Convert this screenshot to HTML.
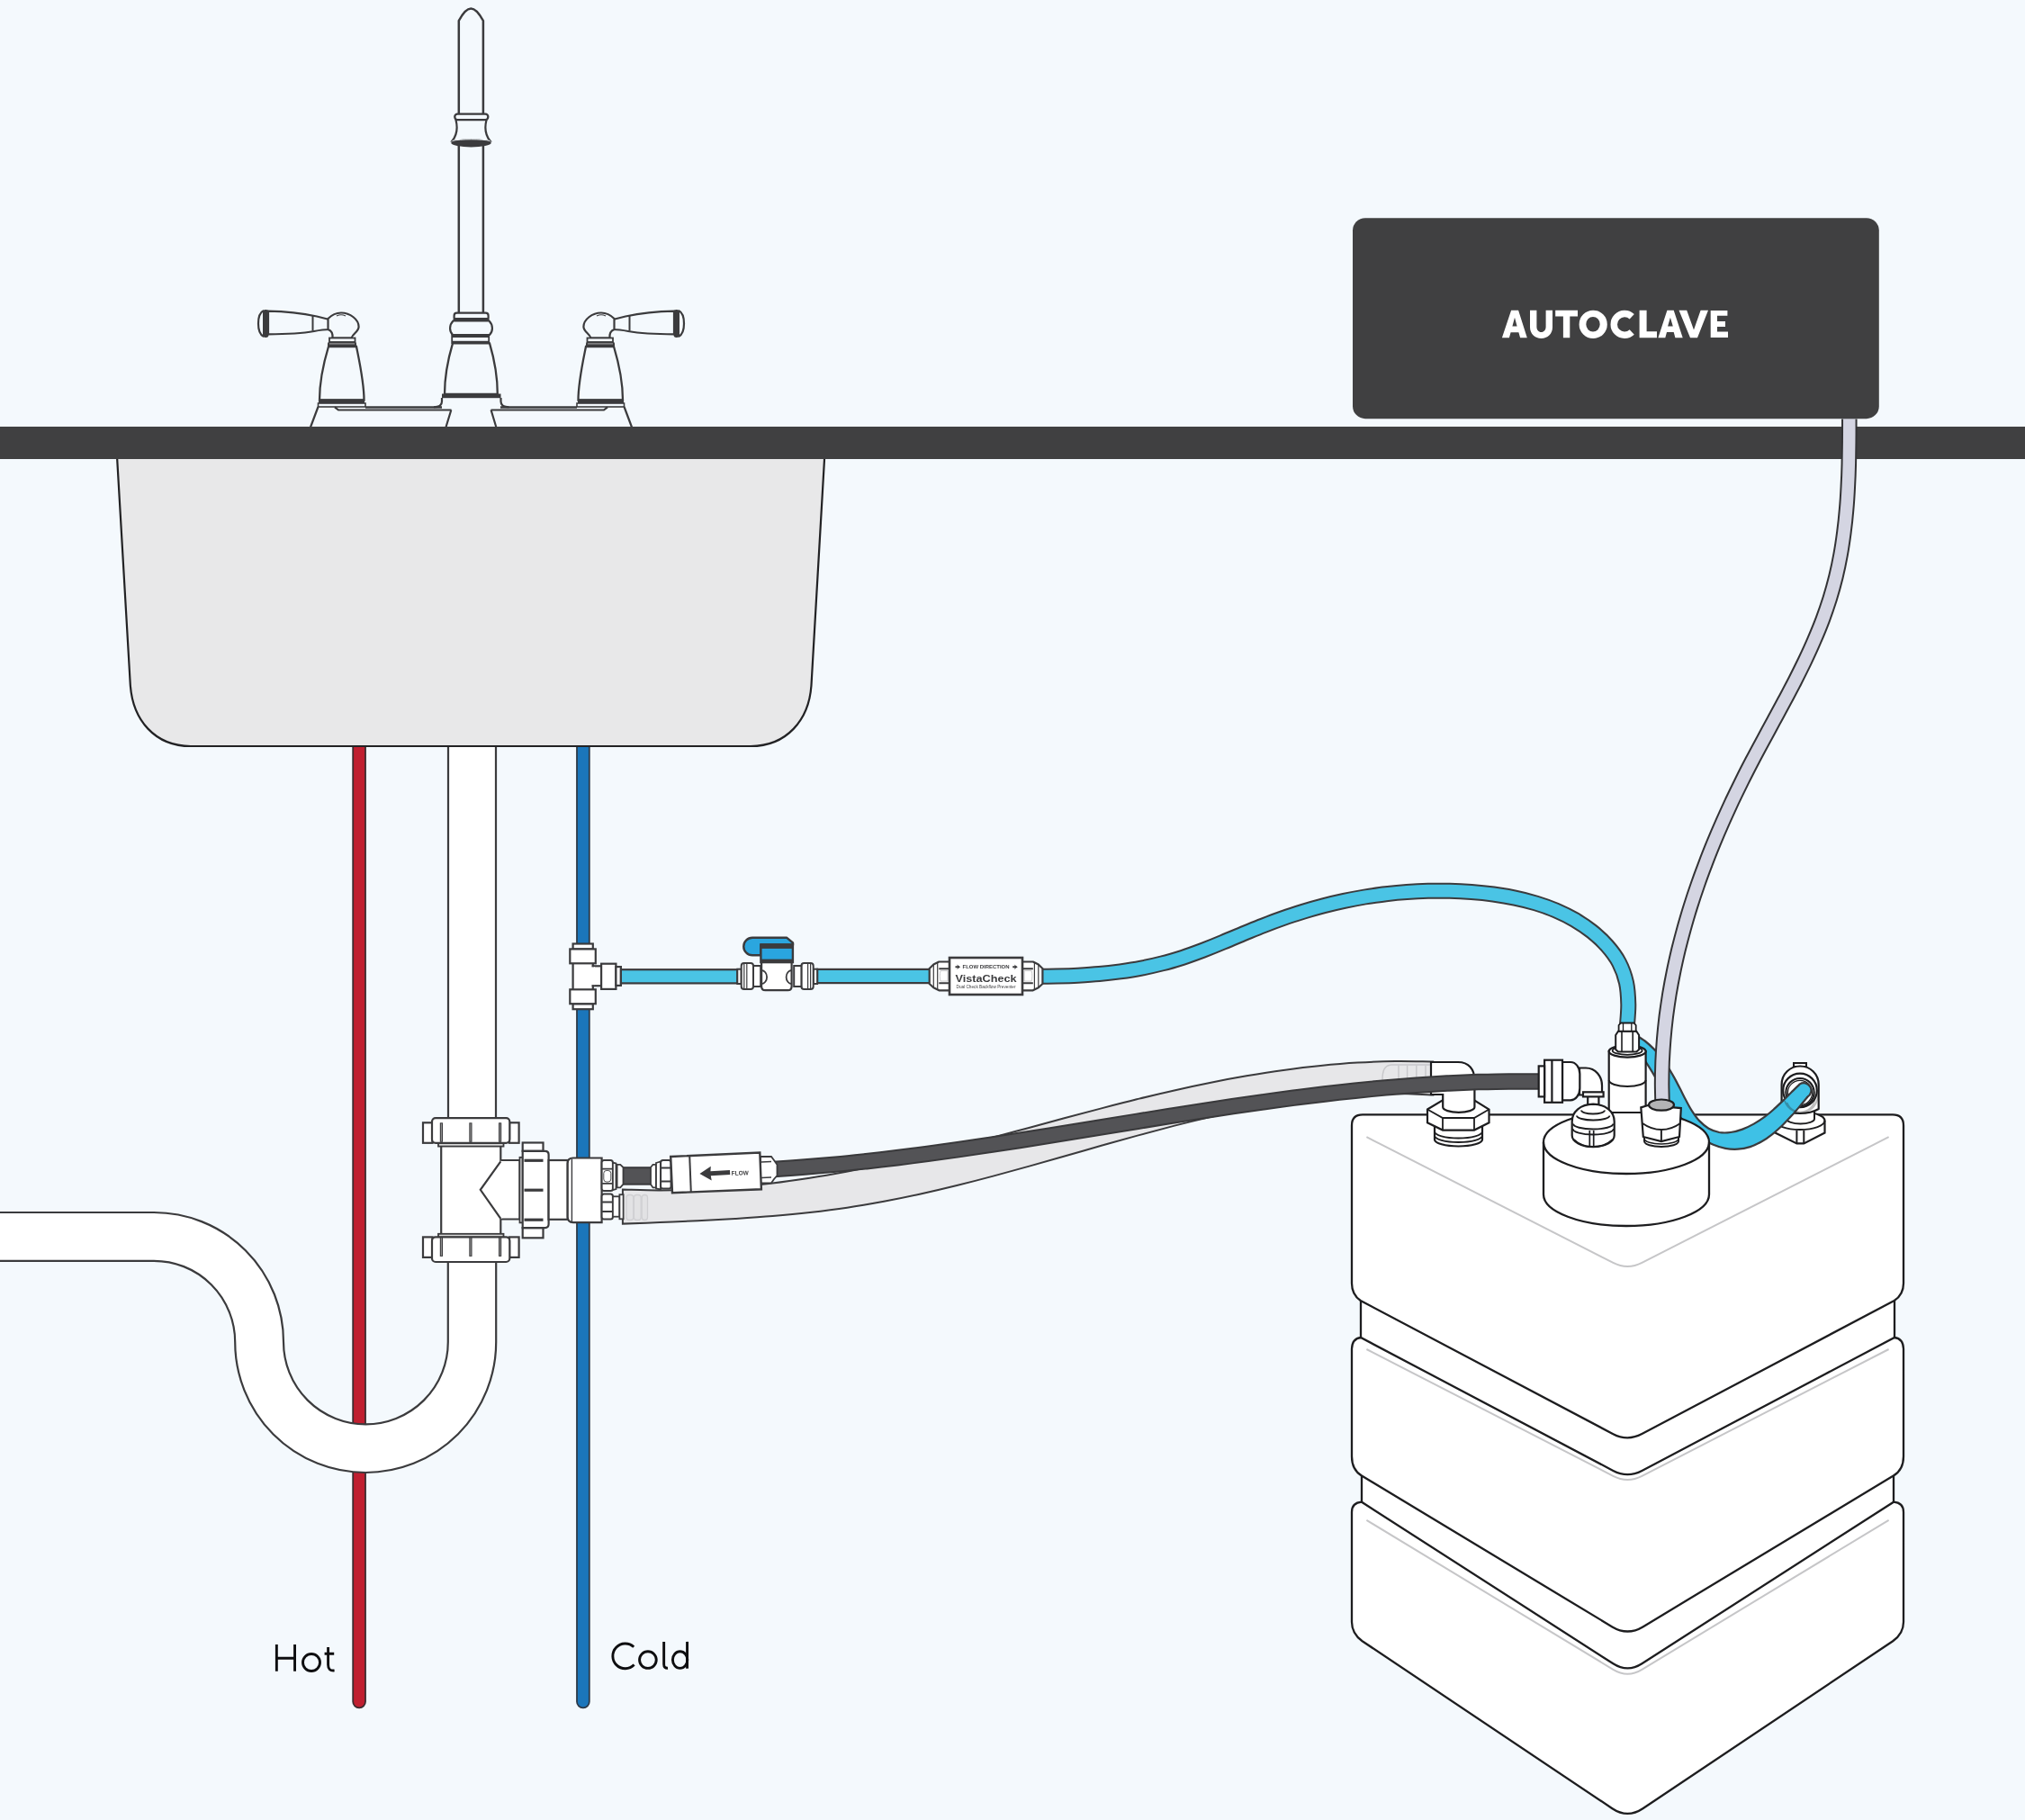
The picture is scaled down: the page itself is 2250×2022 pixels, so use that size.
<!DOCTYPE html>
<html><head><meta charset="utf-8"><title>Autoclave water line diagram</title>
<style>html,body{margin:0;padding:0;background:#f4f9fd;overflow:hidden}svg{display:block;will-change:transform}</style>
</head><body>
<svg width="2250" height="2022" viewBox="0 0 2250 2022">
<rect width="2250" height="2022" fill="#f4f9fd"/>
<g id="faucet">
<path d="M509.8,128 L509.8,23 C514,15 518,9.4 523.3,9.4 C528.6,9.4 532.6,15 536.9,23 L536.9,128 Z" fill="#f4f9fd" stroke="#3b3b3d" stroke-width="2.5"/>
<line x1="509.8" y1="160" x2="509.8" y2="349" stroke="#3b3b3d" stroke-width="2.5"/>
<line x1="536.9" y1="160" x2="536.9" y2="349" stroke="#3b3b3d" stroke-width="2.5"/>
<rect x="505.3" y="126.6" width="37" height="6.5" rx="3" fill="#f4f9fd" stroke="#3b3b3d" stroke-width="2.3"/>
<path d="M506.5,133.2 C508.5,141 508.5,149 502.5,156.5 L544.5,156.5 C538.5,149 538.5,141 540.5,133.2 Z" fill="#f4f9fd" stroke="#3b3b3d" stroke-width="2.2"/>
<ellipse cx="523.5" cy="158.8" rx="22.2" ry="4.6" fill="#3b3b3d"/>
<path d="M502.5,156.5 C510,154.2 537,154.2 544.5,156.5" fill="none" stroke="#f4f9fd" stroke-width="1"/>
<rect x="504.6" y="347.7" width="38" height="8.7" rx="3" fill="#f4f9fd" stroke="#3b3b3d" stroke-width="2.2"/>
<rect x="505" y="353" width="37" height="3.2" fill="#3b3b3d"/>
<path d="M503.5,356.4 C499,361 499,368 503,372 L544,372 C548,368 548,361 543.5,356.4 Z" fill="#f4f9fd" stroke="#3b3b3d" stroke-width="2.2"/>
<rect x="502.2" y="372" width="41" height="9" fill="#f4f9fd" stroke="#3b3b3d" stroke-width="1.8"/>
<rect x="502.2" y="372" width="41" height="3" fill="#3b3b3d"/>
<rect x="502.2" y="378.8" width="41" height="2.6" fill="#3b3b3d"/>
<path d="M503,381.4 C497.5,400 494,420 494,438 L552.8,438 C552.8,420 549.5,400 544,381.4 Z" fill="#f4f9fd" stroke="#3b3b3d" stroke-width="2.3"/>
<rect x="491" y="437.5" width="65.5" height="4.7" fill="#3b3b3d"/>
<path d="M491,442 L491,446 C491,450 488,452.3 482,452.3 M556.5,442 L556.5,446 C556.5,450 559.5,452.3 565.5,452.3" fill="none" stroke="#3b3b3d" stroke-width="2.2"/>
<path d="M501.3,455.5 L495.5,474.5 M545.6,455.5 L551.3,474.5" fill="none" stroke="#3b3b3d" stroke-width="2.2"/>
<path d="M293,345 C285,349 285,370 293,374" fill="none" stroke="#3b3b3d" stroke-width="2.2"/>
<rect x="292" y="344" width="6.5" height="31" rx="3" fill="#3b3b3d"/>
<path d="M298,345.7 C318,346 338,348.5 352,351.5 L366,355 L366,366 C360,366 354,367 349,368 C338,370 318,371.3 298,371.3 Z" fill="#f4f9fd" stroke="#3b3b3d" stroke-width="2.2"/>
<line x1="347.5" y1="350.5" x2="347.5" y2="367.5" stroke="#3b3b3d" stroke-width="2"/>
<path d="M364.5,354 C369,349.5 373,347.5 379,347.5 C389,347.5 398.6,355 398.6,363 C398.6,368.5 392,370.5 390.5,375.5 L369.5,375.5 C370,371 368.5,367.5 364.5,366 Z" fill="#f4f9fd" stroke="#3b3b3d" stroke-width="2.2"/>
<path d="M374,351 C377,349.5 381,349.5 384,351" fill="none" stroke="#3b3b3d" stroke-width="1.2"/>
<rect x="366" y="375.5" width="28.5" height="4.5" fill="#f4f9fd" stroke="#3b3b3d" stroke-width="1.8"/>
<rect x="364" y="380" width="32" height="5" rx="1.5" fill="#3b3b3d"/>
<rect x="366" y="381.3" width="28" height="1.2" fill="#9a9a9c"/>
<path d="M365,385 C359,405 355,425 355,444.5 L404.5,444.5 C404.5,425 400,405 396,385 Z" fill="#f4f9fd" stroke="#3b3b3d" stroke-width="2.3"/>
<rect x="354" y="443.5" width="51" height="4.5" fill="#3b3b3d"/>
<rect x="353.5" y="448" width="52.5" height="4" fill="#f4f9fd" stroke="#3b3b3d" stroke-width="1.6"/>
<path d="M353.5,452 L345,474.5" fill="none" stroke="#3b3b3d" stroke-width="2.2"/>
<path d="M372,452.3 L376,455.5 L501.5,455.5" fill="none" stroke="#3b3b3d" stroke-width="2.2"/>
<path d="M406,452.5 L491,452.5" fill="none" stroke="#3b3b3d" stroke-width="2.6"/>
<g transform="translate(1047,0) scale(-1,1)"><path d="M293,345 C285,349 285,370 293,374" fill="none" stroke="#3b3b3d" stroke-width="2.2"/>
<rect x="292" y="344" width="6.5" height="31" rx="3" fill="#3b3b3d"/>
<path d="M298,345.7 C318,346 338,348.5 352,351.5 L366,355 L366,366 C360,366 354,367 349,368 C338,370 318,371.3 298,371.3 Z" fill="#f4f9fd" stroke="#3b3b3d" stroke-width="2.2"/>
<line x1="347.5" y1="350.5" x2="347.5" y2="367.5" stroke="#3b3b3d" stroke-width="2"/>
<path d="M364.5,354 C369,349.5 373,347.5 379,347.5 C389,347.5 398.6,355 398.6,363 C398.6,368.5 392,370.5 390.5,375.5 L369.5,375.5 C370,371 368.5,367.5 364.5,366 Z" fill="#f4f9fd" stroke="#3b3b3d" stroke-width="2.2"/>
<path d="M374,351 C377,349.5 381,349.5 384,351" fill="none" stroke="#3b3b3d" stroke-width="1.2"/>
<rect x="366" y="375.5" width="28.5" height="4.5" fill="#f4f9fd" stroke="#3b3b3d" stroke-width="1.8"/>
<rect x="364" y="380" width="32" height="5" rx="1.5" fill="#3b3b3d"/>
<rect x="366" y="381.3" width="28" height="1.2" fill="#9a9a9c"/>
<path d="M365,385 C359,405 355,425 355,444.5 L404.5,444.5 C404.5,425 400,405 396,385 Z" fill="#f4f9fd" stroke="#3b3b3d" stroke-width="2.3"/>
<rect x="354" y="443.5" width="51" height="4.5" fill="#3b3b3d"/>
<rect x="353.5" y="448" width="52.5" height="4" fill="#f4f9fd" stroke="#3b3b3d" stroke-width="1.6"/>
<path d="M353.5,452 L345,474.5" fill="none" stroke="#3b3b3d" stroke-width="2.2"/>
<path d="M372,452.3 L376,455.5 L501.5,455.5" fill="none" stroke="#3b3b3d" stroke-width="2.2"/>
<path d="M406,452.5 L491,452.5" fill="none" stroke="#3b3b3d" stroke-width="2.6"/></g>
</g>
<path d="M392.2,815 V1890.5 A6.9,6.9 0 0 0 406,1890.5 V815" fill="#c01f30" stroke="#3d2b2e" stroke-width="1.8"/>
<rect x="498" y="815" width="53" height="430" fill="#ffffff"/>
<path d="M498,815 V1245 M551,815 V1245" stroke="#3b3b3d" stroke-width="2.2" fill="none"/>
<path d="M-5,1347 L171,1347 A144,144 0 0 1 315,1491 A91.4,91.4 0 0 0 497.8,1491 L497.8,1400 L551.2,1400 L551.2,1491 A145,145 0 0 1 261.2,1491 A90.2,90.2 0 0 0 171,1400.8 L-5,1400.8 Z" fill="#ffffff" stroke="#3b3b3d" stroke-width="2.2"/>
<path d="M641,815 V1890.5 A6.9,6.9 0 0 0 654.8,1890.5 V815" fill="#1b76bb" stroke="#2d3a48" stroke-width="1.8"/>
<path d="M129.6,500 L144.8,761 C147.5,800 172,829 212,829 L834,829 C874,829 899,800 901.5,761 L916.6,500 Z" fill="#e8e8e9" stroke="#222224" stroke-width="2.2"/>
<rect x="0" y="474" width="2250" height="36" fill="#404041"/>
<rect x="1503" y="242.2" width="584.8" height="223" rx="14" fill="#404041"/>
<path d="M1668.9,375.3 L1679.1,344.8 H1687.1 L1696.8,375.3 H1689.1 L1687.4,369.2 H1678.6 L1676.9,375.3 Z M1680.4,362.5 L1683,352.8 L1685.6,362.5 Z M1700,344.8 V363.5 C1700,371 1705.5,376 1712.5,376 C1719.5,376 1725,371 1725,363.5 V344.8 H1717.6 V363 C1717.6,366.5 1715.5,369 1712.5,369 C1709.5,369 1707.4,366.5 1707.4,363 V344.8 Z M1728.2,344.8 H1753 V351.6 H1744.3 V375.3 H1736.9 V351.6 H1728.2 Z M1754.6,360.4 A15.6,15.6 0 1 0 1785.8,360.4 A15.6,15.6 0 1 0 1754.6,360.4 Z M1762.3,360.25 A7.7,8.35 0 1 0 1777.7,360.25 A7.7,8.35 0 1 0 1762.3,360.25 Z M1815.8,349.05 A15.6,15.6 0 1 0 1815.8,371.75 L1810.66,366.3 A8.1,8.1 0 1 1 1810.66,354.5 Z M1821.6,344.8 H1829.6 V368.3 H1841 V375.3 H1821.6 Z M1842.4,375.3 L1852.4,344.8 H1859.7 L1869.7,375.3 H1861.4 L1859.7,369 H1852 L1850.3,375.3 Z M1853.1,362.5 L1855.9,352.8 L1858.8,362.5 Z M1865.5,344.8 H1874.2 L1882,366.5 L1889.6,344.8 H1898 L1886,375.3 H1878 Z M1900.7,344.9 H1919.4 V350.8 H1908 V356.9 H1917 V362.9 H1908 V368.6 H1920 V375.1 H1900.7 Z" fill="#ffffff" fill-rule="evenodd"/>
<rect x="490.2" y="1272" width="66.1" height="101" rx="0" fill="#ffffff" stroke="#3b3b3d" stroke-width="2.2"/>
<path d="M556.3,1289 H577.5 V1354.5 H556.3" fill="#ffffff" stroke="#3b3b3d" stroke-width="2.2"/>
<rect x="555" y="1290.2" width="3" height="63.2" fill="#ffffff"/>
<path d="M556.3,1290.3 L533.8,1321.8 L556.3,1353.9" fill="none" stroke="#3b3b3d" stroke-width="2.2"/>
<rect x="487" y="1269.8" width="72.5" height="3.8" rx="0" fill="#d8d8d8" stroke="#3b3b3d" stroke-width="1.8"/>
<rect x="487" y="1370.8" width="72.5" height="3.8" rx="0" fill="#d8d8d8" stroke="#3b3b3d" stroke-width="1.8"/>
<rect x="470" y="1247.3" width="10.5" height="22.5" rx="0" fill="#ffffff" stroke="#3b3b3d" stroke-width="2.2"/>
<rect x="566" y="1247.3" width="10.6" height="22.5" rx="0" fill="#ffffff" stroke="#3b3b3d" stroke-width="2.2"/>
<rect x="480" y="1242.2" width="86.3" height="27.6" rx="4" fill="#ffffff" stroke="#3b3b3d" stroke-width="2.2"/>
<rect x="488.79999999999995" y="1247.3" width="3.2" height="21.5" fill="#3b3b3d"/>
<rect x="489.9" y="1248.3" width="1" height="19.5" fill="#9a9a9a"/>
<rect x="521.3" y="1247.3" width="3.2" height="21.5" fill="#3b3b3d"/>
<rect x="522.4" y="1248.3" width="1" height="19.5" fill="#9a9a9a"/>
<rect x="554.0" y="1247.3" width="3.2" height="21.5" fill="#3b3b3d"/>
<rect x="555.1" y="1248.3" width="1" height="19.5" fill="#9a9a9a"/>
<rect x="470" y="1374.4" width="10.5" height="22.5" rx="0" fill="#ffffff" stroke="#3b3b3d" stroke-width="2.2"/>
<rect x="566" y="1374.4" width="10.6" height="22.5" rx="0" fill="#ffffff" stroke="#3b3b3d" stroke-width="2.2"/>
<rect x="480" y="1374.4" width="86.3" height="27.6" rx="4" fill="#ffffff" stroke="#3b3b3d" stroke-width="2.2"/>
<rect x="488.79999999999995" y="1374.4" width="3.2" height="21.5" fill="#3b3b3d"/>
<rect x="489.9" y="1375.4" width="1" height="19.5" fill="#9a9a9a"/>
<rect x="521.3" y="1374.4" width="3.2" height="21.5" fill="#3b3b3d"/>
<rect x="522.4" y="1375.4" width="1" height="19.5" fill="#9a9a9a"/>
<rect x="554.0" y="1374.4" width="3.2" height="21.5" fill="#3b3b3d"/>
<rect x="555.1" y="1375.4" width="1" height="19.5" fill="#9a9a9a"/>
<rect x="577.5" y="1285.8" width="3.2" height="72.6" rx="0" fill="#ffffff" stroke="#3b3b3d" stroke-width="1.8"/>
<rect x="580.7" y="1269.5" width="22.8" height="9.3" rx="0" fill="#ffffff" stroke="#3b3b3d" stroke-width="2.2"/>
<rect x="580.7" y="1364.1" width="22.8" height="11.2" rx="0" fill="#ffffff" stroke="#3b3b3d" stroke-width="2.2"/>
<path d="M580.7,1278.8 H605.6 Q609.6,1278.8 609.6,1282.8 V1360.1 Q609.6,1364.1 605.6,1364.1 H580.7 Z" fill="#ffffff" stroke="#3b3b3d" stroke-width="2.2"/>
<rect x="582.5" y="1287.7" width="21" height="3.2" fill="#3b3b3d"/>
<rect x="582.5" y="1320.6000000000001" width="21" height="3.2" fill="#3b3b3d"/>
<rect x="582.5" y="1353.6000000000001" width="21" height="3.2" fill="#3b3b3d"/>
<rect x="609.6" y="1289" width="21.1" height="65.8" rx="0" fill="#ffffff" stroke="#3b3b3d" stroke-width="2.2"/>
<path d="M668.6,1286.5 V1358.1 H636.7 Q630.7,1358.1 630.7,1352.1 V1292.5 Q630.7,1286.5 636.7,1286.5 Z" fill="#ffffff" stroke="#3b3b3d" stroke-width="2.2"/>
<line x1="635.4" y1="1287.5" x2="635.4" y2="1357" stroke="#3b3b3d" stroke-width="1.4"/>
<rect x="636.6" y="1048.5" width="22.2" height="6" rx="0" fill="#ffffff" stroke="#3b3b3d" stroke-width="2.2"/>
<rect x="636.6" y="1115.2" width="22.2" height="6" rx="0" fill="#ffffff" stroke="#3b3b3d" stroke-width="2.2"/>
<rect x="636.6" y="1068" width="22.2" height="33" rx="0" fill="#ffffff" stroke="#3b3b3d" stroke-width="2.2"/>
<rect x="658.8" y="1073.3" width="9.3" height="21.9" rx="0" fill="#ffffff" stroke="#3b3b3d" stroke-width="2.2"/>
<rect x="656" y="1074.4" width="5" height="19.7" fill="#ffffff"/>
<rect x="633.3" y="1054.4" width="28.5" height="15.9" rx="0" fill="#ffffff" stroke="#3b3b3d" stroke-width="2.2"/>
<rect x="633.3" y="1099.3" width="28.5" height="15.9" rx="0" fill="#ffffff" stroke="#3b3b3d" stroke-width="2.2"/>
<rect x="668.1" y="1070.7" width="16.3" height="28.2" rx="0" fill="#ffffff" stroke="#3b3b3d" stroke-width="2.2"/>
<rect x="684.4" y="1074.1" width="5.5" height="20.8" rx="0" fill="#ffffff" stroke="#3b3b3d" stroke-width="2.2"/>
<rect x="689.9" y="1077.2" width="129.39999999999998" height="15.2" fill="#4ac4e5" stroke="#3b3b3d" stroke-width="2.2"/>
<rect x="908.1" y="1076.9" width="125.89999999999998" height="15.2" fill="#4ac4e5" stroke="#3b3b3d" stroke-width="2.2"/>
<rect x="819.3" y="1076.7" width="4.4" height="16.3" rx="0" fill="#ffffff" stroke="#3b3b3d" stroke-width="2"/>
<rect x="823.7" y="1070" width="13.3" height="28.9" rx="3" fill="#ffffff" stroke="#3b3b3d" stroke-width="2"/>
<rect x="837.0" y="1073" width="8.2" height="23" rx="0" fill="#ffffff" stroke="#3b3b3d" stroke-width="2"/>
<line x1="826.8" y1="1071" x2="826.8" y2="1098" stroke="#3b3b3d" stroke-width="1.2"/>
<line x1="829.8" y1="1071" x2="829.8" y2="1098" stroke="#3b3b3d" stroke-width="1.2"/>
<rect x="903.7" y="1076.7" width="4.4" height="16.3" rx="0" fill="#ffffff" stroke="#3b3b3d" stroke-width="2"/>
<rect x="890.4" y="1070" width="13.3" height="28.9" rx="3" fill="#ffffff" stroke="#3b3b3d" stroke-width="2"/>
<rect x="882.2" y="1073" width="8.2" height="23" rx="0" fill="#ffffff" stroke="#3b3b3d" stroke-width="2"/>
<line x1="900.6" y1="1071" x2="900.6" y2="1098" stroke="#3b3b3d" stroke-width="1.2"/>
<line x1="897.6" y1="1071" x2="897.6" y2="1098" stroke="#3b3b3d" stroke-width="1.2"/>
<path d="M846.1,1067 H879.6 V1096 Q879.6,1100.2 875.4,1100.2 H850.3 Q846.1,1100.2 846.1,1096 Z" fill="#ffffff" stroke="#3b3b3d" stroke-width="2.2"/>
<path d="M846.1,1078 A6,7.5 0 0 1 846.1,1093 M879.6,1078 A6,7.5 0 0 0 879.6,1093" fill="none" stroke="#3b3b3d" stroke-width="1.8"/>
<path d="M836,1041.7 H874 L881,1047.5 V1050 H845.4 V1061.2 H836 A9.75,9.75 0 0 1 836,1041.7 Z" fill="#2ba6df" stroke="#3b3b3d" stroke-width="2.4" stroke-linejoin="round"/>
<rect x="845.4" y="1049.3" width="35.5" height="19.8" fill="#29a5e0" stroke="#3b3b3d" stroke-width="2.4"/>
<rect x="845.4" y="1049.3" width="35.5" height="4.6" fill="#3b3b3d"/>
<rect x="845.4" y="1065.6" width="35.5" height="3.6" fill="#3b3b3d"/>
<path d="M1150.0,1084.7 C1154.0,1084.7 1165.9,1084.7 1173.8,1084.5 C1181.7,1084.3 1189.7,1084.1 1197.6,1083.7 C1205.5,1083.2 1213.4,1082.7 1221.3,1082.0 C1229.2,1081.3 1237.0,1080.4 1244.8,1079.4 C1252.6,1078.3 1260.4,1077.1 1268.2,1075.6 C1275.9,1074.1 1283.6,1072.4 1291.3,1070.4 C1298.9,1068.5 1306.5,1066.2 1314.1,1063.8 C1321.6,1061.3 1329.1,1058.5 1336.6,1055.7 C1344.1,1052.8 1351.5,1049.8 1358.9,1046.7 C1366.4,1043.7 1373.8,1040.5 1381.2,1037.4 C1388.6,1034.4 1396.0,1031.3 1403.4,1028.4 C1410.8,1025.5 1418.3,1022.7 1425.7,1020.1 C1433.2,1017.4 1440.7,1015.0 1448.2,1012.7 C1455.7,1010.4 1463.2,1008.3 1470.8,1006.3 C1478.3,1004.3 1485.9,1002.5 1493.5,1000.9 C1501.1,999.3 1508.8,997.8 1516.5,996.5 C1524.2,995.3 1531.9,994.1 1539.7,993.2 C1547.4,992.3 1555.3,991.5 1563.1,991.0 C1571.0,990.4 1578.8,990.0 1586.8,989.8 C1594.7,989.6 1602.7,989.6 1610.8,989.8 C1618.8,990.0 1626.9,990.4 1635.0,991.0 C1643.1,991.6 1651.3,992.4 1659.3,993.5 C1667.3,994.6 1675.4,995.9 1683.3,997.6 C1691.2,999.2 1699.0,1001.2 1706.6,1003.5 C1714.2,1005.8 1721.7,1008.5 1728.8,1011.5 C1736.0,1014.6 1743.0,1018.0 1749.7,1021.9 C1756.3,1025.8 1762.8,1030.1 1768.8,1034.9 C1774.8,1039.7 1780.6,1044.9 1785.6,1050.7 C1790.7,1056.5 1795.5,1062.7 1799.0,1069.5 C1802.6,1076.4 1805.3,1083.8 1807.0,1091.6 C1808.7,1099.3 1809.1,1107.8 1809.3,1116.0 C1809.4,1124.1 1808.1,1136.3 1807.8,1140.4" fill="none" stroke="#3b3b3d" stroke-width="18" stroke-linejoin="round"/>
<path d="M1150.0,1084.7 C1154.0,1084.7 1165.9,1084.7 1173.8,1084.5 C1181.7,1084.3 1189.7,1084.1 1197.6,1083.7 C1205.5,1083.2 1213.4,1082.7 1221.3,1082.0 C1229.2,1081.3 1237.0,1080.4 1244.8,1079.4 C1252.6,1078.3 1260.4,1077.1 1268.2,1075.6 C1275.9,1074.1 1283.6,1072.4 1291.3,1070.4 C1298.9,1068.5 1306.5,1066.2 1314.1,1063.8 C1321.6,1061.3 1329.1,1058.5 1336.6,1055.7 C1344.1,1052.8 1351.5,1049.8 1358.9,1046.7 C1366.4,1043.7 1373.8,1040.5 1381.2,1037.4 C1388.6,1034.4 1396.0,1031.3 1403.4,1028.4 C1410.8,1025.5 1418.3,1022.7 1425.7,1020.1 C1433.2,1017.4 1440.7,1015.0 1448.2,1012.7 C1455.7,1010.4 1463.2,1008.3 1470.8,1006.3 C1478.3,1004.3 1485.9,1002.5 1493.5,1000.9 C1501.1,999.3 1508.8,997.8 1516.5,996.5 C1524.2,995.3 1531.9,994.1 1539.7,993.2 C1547.4,992.3 1555.3,991.5 1563.1,991.0 C1571.0,990.4 1578.8,990.0 1586.8,989.8 C1594.7,989.6 1602.7,989.6 1610.8,989.8 C1618.8,990.0 1626.9,990.4 1635.0,991.0 C1643.1,991.6 1651.3,992.4 1659.3,993.5 C1667.3,994.6 1675.4,995.9 1683.3,997.6 C1691.2,999.2 1699.0,1001.2 1706.6,1003.5 C1714.2,1005.8 1721.7,1008.5 1728.8,1011.5 C1736.0,1014.6 1743.0,1018.0 1749.7,1021.9 C1756.3,1025.8 1762.8,1030.1 1768.8,1034.9 C1774.8,1039.7 1780.6,1044.9 1785.6,1050.7 C1790.7,1056.5 1795.5,1062.7 1799.0,1069.5 C1802.6,1076.4 1805.3,1083.8 1807.0,1091.6 C1808.7,1099.3 1809.1,1107.8 1809.3,1116.0 C1809.4,1124.1 1808.1,1136.3 1807.8,1140.4" fill="none" stroke="#4ac4e5" stroke-width="14" stroke-linejoin="round"/>
<path d="M1032.7,1076 L1037.3,1071.5 L1043.3,1068.5 H1056 V1100.3 H1043.3 L1037.3,1097.3 L1032.7,1093 Z" fill="#ffffff" stroke="#3b3b3d" stroke-width="2.2" stroke-linejoin="round"/><path d="M1037.3,1072 V1097 M1041.7,1069.5 V1099.3" stroke="#3b3b3d" stroke-width="1.2" fill="none"/><path d="M1043.3,1076.3 H1055 M1043.3,1092.2 H1055" stroke="#3b3b3d" stroke-width="2" fill="none"/><path d="M1045,1078.5 H1053 V1090 H1045 C1044,1086 1044,1082.5 1045,1078.5 Z" fill="none" stroke="#bdbdbf" stroke-width="0.8"/>
<g transform="translate(2191.1,0) scale(-1,1)"><path d="M1032.7,1076 L1037.3,1071.5 L1043.3,1068.5 H1056 V1100.3 H1043.3 L1037.3,1097.3 L1032.7,1093 Z" fill="#ffffff" stroke="#3b3b3d" stroke-width="2.2" stroke-linejoin="round"/><path d="M1037.3,1072 V1097 M1041.7,1069.5 V1099.3" stroke="#3b3b3d" stroke-width="1.2" fill="none"/><path d="M1043.3,1076.3 H1055 M1043.3,1092.2 H1055" stroke="#3b3b3d" stroke-width="2" fill="none"/><path d="M1045,1078.5 H1053 V1090 H1045 C1044,1086 1044,1082.5 1045,1078.5 Z" fill="none" stroke="#bdbdbf" stroke-width="0.8"/></g>
<rect x="1055" y="1064" width="81" height="41" fill="#ffffff" stroke="#3b3b3d" stroke-width="2.6"/>
<text opacity="0.99" x="1095.5" y="1076.4" text-anchor="middle" textLength="52" lengthAdjust="spacingAndGlyphs" font-family="&quot;Liberation Sans&quot;, sans-serif" font-weight="bold" font-size="6.2" fill="#3b3b3d">FLOW DIRECTION</text>
<path d="M1061.5,1073.3 H1064.1 L1063.1,1071.6 L1067.1,1074.3 L1063.1,1077 L1064.1,1075.3 H1061.5 Z" fill="#3b3b3d"/>
<path d="M1125.2,1073.3 H1127.8 L1126.8,1071.6 L1130.8,1074.3 L1126.8,1077 L1127.8,1075.3 H1125.2 Z" fill="#3b3b3d"/>
<text opacity="0.99" x="1095.5" y="1090.5" text-anchor="middle" textLength="68" lengthAdjust="spacingAndGlyphs" font-family="&quot;Liberation Sans&quot;, sans-serif" font-weight="bold" font-size="11.5" fill="#3b3b3d">VistaCheck</text>
<text opacity="0.99" x="1095.5" y="1097.5" text-anchor="middle" textLength="66" lengthAdjust="spacingAndGlyphs" font-family="&quot;Liberation Sans&quot;, sans-serif" font-size="4.6" fill="#3b3b3d">Dual Check Backflow Preventer</text>
<path d="M691.9,1321.6 C698.9,1321.7 720.0,1322.5 733.9,1322.4 C747.9,1322.4 761.8,1322.1 775.7,1321.5 C789.6,1320.8 803.4,1319.9 817.2,1318.8 C831.0,1317.6 844.8,1316.2 858.5,1314.5 C872.2,1312.9 885.9,1310.9 899.6,1308.8 C913.2,1306.7 926.8,1304.3 940.4,1301.8 C954.0,1299.3 967.5,1296.5 981.0,1293.6 C994.6,1290.8 1008.0,1287.7 1021.5,1284.5 C1035.0,1281.3 1048.4,1277.9 1061.9,1274.5 C1075.3,1271.1 1088.7,1267.6 1102.1,1264.0 C1115.5,1260.5 1128.9,1256.8 1142.3,1253.2 C1155.7,1249.6 1169.1,1245.9 1182.5,1242.3 C1195.9,1238.7 1209.3,1235.1 1222.8,1231.6 C1236.2,1228.1 1249.6,1224.6 1263.1,1221.3 C1276.6,1218.0 1290.0,1214.7 1303.6,1211.7 C1317.1,1208.6 1330.6,1205.7 1344.2,1203.0 C1357.7,1200.2 1371.3,1197.6 1385.0,1195.3 C1398.6,1193.0 1412.3,1190.8 1426.0,1188.9 C1439.7,1187.0 1453.4,1185.3 1467.2,1184.0 C1480.9,1182.6 1494.7,1181.4 1508.6,1180.6 C1522.4,1179.8 1536.3,1179.3 1550.3,1179.1 C1564.2,1178.9 1585.2,1179.5 1592.2,1179.5 L1592.3,1216.6 C1585.3,1216.3 1564.1,1215.1 1550.1,1215.0 C1536.1,1214.9 1522.2,1215.3 1508.3,1216.1 C1494.5,1216.8 1480.7,1218.1 1466.9,1219.6 C1453.2,1221.1 1439.5,1222.9 1425.8,1225.1 C1412.2,1227.2 1398.6,1229.7 1385.0,1232.4 C1371.5,1235.0 1357.9,1238.0 1344.5,1241.1 C1331.0,1244.2 1317.5,1247.5 1304.1,1250.9 C1290.6,1254.4 1277.2,1258.0 1263.8,1261.6 C1250.5,1265.3 1237.1,1269.1 1223.7,1272.8 C1210.4,1276.6 1197.0,1280.5 1183.7,1284.2 C1170.3,1288.0 1156.9,1291.9 1143.6,1295.6 C1130.2,1299.3 1116.8,1303.0 1103.5,1306.6 C1090.1,1310.2 1076.6,1313.7 1063.2,1317.0 C1049.8,1320.3 1036.3,1323.5 1022.8,1326.5 C1009.3,1329.5 995.7,1332.3 982.1,1334.8 C968.5,1337.3 954.9,1339.7 941.2,1341.7 C927.5,1343.7 913.7,1345.4 899.9,1347.0 C886.1,1348.5 872.2,1349.8 858.4,1351.0 C844.5,1352.2 830.6,1353.1 816.8,1354.0 C802.9,1354.8 789.0,1355.5 775.1,1356.2 C761.2,1356.9 747.3,1357.4 733.4,1358.0 C719.6,1358.6 698.8,1359.4 691.9,1359.6 Z" fill="#e7e7e9" stroke="#3b3b3d" stroke-width="2"/>
<rect x="696" y="1327.5" width="7.7999999999999545" height="28" rx="3" fill="#e2e2e4" stroke="#d0d0d3" stroke-width="1.3"/>
<rect x="704.4" y="1327.5" width="7.800000000000068" height="28" rx="3" fill="#e2e2e4" stroke="#d0d0d3" stroke-width="1.3"/>
<rect x="713.2" y="1327.5" width="6.2999999999999545" height="28" rx="3" fill="#e2e2e4" stroke="#d0d0d3" stroke-width="1.3"/>
<path d="M1536,1200 C1536,1190 1538,1183.5 1546,1183 H1590" fill="none" stroke="#c8c8cb" stroke-width="1.4"/>
<path d="M1554,1183.5 V1200" stroke="#c8c8cb" stroke-width="1.4" fill="none"/>
<path d="M1563.6,1183.5 V1200" stroke="#c8c8cb" stroke-width="1.4" fill="none"/>
<path d="M1573.8,1183.5 V1200" stroke="#c8c8cb" stroke-width="1.4" fill="none"/>
<path d="M1584,1183.5 V1200" stroke="#c8c8cb" stroke-width="1.4" fill="none"/>
<path d="M1512,1430 V1500 L1808.4,1656 L2105,1500 V1430 L1808.4,1590 Z" fill="#ffffff" stroke="#1d1d1f" stroke-width="2.3"/>
<path d="M1513,1625 V1685 L1808.4,1875 L2104,1685 V1625 L1808.4,1805 Z" fill="#ffffff" stroke="#1d1d1f" stroke-width="2.3"/>
<path d="M1502,1680 Q1502,1669.5 1513,1668.7 L1792.4,1848.3 Q1808.4,1858.6 1824.4,1848.3 L2104.0,1668.7 Q2115,1669.5 2115,1680 V1802 Q2115,1815 2103.2,1823.2 L1825.4,2009.2 Q1808.4,2020.6 1791.4,2009.2 L1513.6,1823.2 Q1502,1815 1502,1802 Z" fill="#ffffff" stroke="#1d1d1f" stroke-width="2.3"/>
<path d="M1502,1498.5 Q1502.5,1487 1512,1486 L1792.4,1633.9 Q1808.4,1642.3 1824.4,1633.9 L2105.0,1486.0 Q2114.5,1487 2115,1498.5 V1618 Q2115,1633 2103.8,1639.5 L1825.4,1807.4 Q1808.4,1817.6 1791.4,1807.4 L1513.0,1639.5 Q1502,1633 1502,1618 Z" fill="#ffffff" stroke="#1d1d1f" stroke-width="2.3"/>
<path d="M1514,1238.4 H2103 Q2115,1238.4 2115,1250.4 V1425.8 Q2115,1438.5 2104.7,1445 L1824.4,1593.1 Q1808.4,1601.6 1792.4,1593.2 L1511.8,1445.0 Q1502,1438.5 1502,1425.8 V1250.4 Q1502,1238.4 1514,1238.4 Z" fill="#ffffff" stroke="#1d1d1f" stroke-width="2.3"/>
<path d="M1518.4,1263.2 L1792.4,1402.9 Q1808.4,1411.1 1824.4,1402.9 L2098.6,1263.2" fill="none" stroke="#c6c6c8" stroke-width="2"/>
<path d="M1518.4,1499 L1792.4,1639.8 Q1808.4,1648.0 1824.4,1639.8 L2098.6,1499.0" fill="none" stroke="#c6c6c8" stroke-width="2"/>
<path d="M1518.4,1688.9 L1792.4,1854.8 Q1808.4,1864.5 1824.4,1854.8 L2098.6,1688.9" fill="none" stroke="#c6c6c8" stroke-width="2"/>
<path d="M1594,1250 V1266 A26.5,7.5 0 0 0 1647,1266 V1250 Z" fill="#ffffff" stroke="#1d1d1f" stroke-width="2.2"/>
<path d="M1594,1257 A26.5,7.5 0 0 0 1647,1257" fill="none" stroke="#1d1d1f" stroke-width="1.8"/>
<path d="M1594,1261.5 A26.5,7.5 0 0 0 1647,1261.5" fill="none" stroke="#1d1d1f" stroke-width="1.8"/>
<path d="M1586,1232.5 L1603,1222.3 H1638 L1654.5,1232.5 V1247.3 L1638,1255.6 H1603 L1586,1247.3 Z" fill="#ffffff" stroke="#1d1d1f" stroke-width="2.2"/>
<path d="M1586,1232.5 L1603,1242 H1638 L1654.5,1232.5 M1603,1242 V1255.6 M1638,1242 V1255.6" fill="none" stroke="#1d1d1f" stroke-width="1.8"/>
<path d="M1590,1180 H1620 C1632,1180 1638.4,1188 1638.4,1200 V1230 A17.6,5.8 0 0 1 1603.2,1230 V1216 H1590 Z" fill="#ffffff" stroke="#1d1d1f" stroke-width="2.2"/>
<path d="M860.0,1298.9 C865.7,1298.5 882.8,1297.4 894.2,1296.6 C905.6,1295.7 917.0,1294.7 928.4,1293.6 C939.8,1292.6 951.1,1291.4 962.5,1290.2 C973.9,1288.9 985.2,1287.6 996.6,1286.2 C1007.9,1284.8 1019.3,1283.4 1030.6,1281.9 C1041.9,1280.4 1053.2,1278.8 1064.6,1277.2 C1075.9,1275.6 1087.2,1273.9 1098.5,1272.2 C1109.8,1270.5 1121.1,1268.8 1132.4,1267.0 C1143.7,1265.2 1155.0,1263.4 1166.3,1261.6 C1177.6,1259.8 1188.9,1258.0 1200.2,1256.1 C1211.5,1254.3 1222.8,1252.4 1234.1,1250.6 C1245.3,1248.8 1256.6,1246.9 1267.9,1245.1 C1279.2,1243.2 1290.5,1241.4 1301.8,1239.6 C1313.1,1237.8 1324.4,1236.0 1335.7,1234.3 C1347.0,1232.5 1358.3,1230.8 1369.6,1229.2 C1380.9,1227.5 1392.2,1225.9 1403.5,1224.3 C1414.8,1222.7 1426.2,1221.2 1437.5,1219.7 C1448.8,1218.2 1460.1,1216.8 1471.5,1215.5 C1482.8,1214.2 1494.2,1212.9 1505.5,1211.7 C1516.9,1210.6 1528.2,1209.4 1539.6,1208.4 C1551.0,1207.4 1562.4,1206.5 1573.8,1205.7 C1585.2,1204.9 1596.6,1204.2 1608.0,1203.6 C1619.4,1203.0 1630.8,1202.5 1642.3,1202.1 C1653.7,1201.8 1665.2,1201.5 1676.7,1201.4 C1688.1,1201.3 1705.4,1201.5 1711.1,1201.5" fill="none" stroke="#39393b" stroke-width="18.5"/>
<path d="M860.0,1298.9 C865.7,1298.5 882.8,1297.4 894.2,1296.6 C905.6,1295.7 917.0,1294.7 928.4,1293.6 C939.8,1292.6 951.1,1291.4 962.5,1290.2 C973.9,1288.9 985.2,1287.6 996.6,1286.2 C1007.9,1284.8 1019.3,1283.4 1030.6,1281.9 C1041.9,1280.4 1053.2,1278.8 1064.6,1277.2 C1075.9,1275.6 1087.2,1273.9 1098.5,1272.2 C1109.8,1270.5 1121.1,1268.8 1132.4,1267.0 C1143.7,1265.2 1155.0,1263.4 1166.3,1261.6 C1177.6,1259.8 1188.9,1258.0 1200.2,1256.1 C1211.5,1254.3 1222.8,1252.4 1234.1,1250.6 C1245.3,1248.8 1256.6,1246.9 1267.9,1245.1 C1279.2,1243.2 1290.5,1241.4 1301.8,1239.6 C1313.1,1237.8 1324.4,1236.0 1335.7,1234.3 C1347.0,1232.5 1358.3,1230.8 1369.6,1229.2 C1380.9,1227.5 1392.2,1225.9 1403.5,1224.3 C1414.8,1222.7 1426.2,1221.2 1437.5,1219.7 C1448.8,1218.2 1460.1,1216.8 1471.5,1215.5 C1482.8,1214.2 1494.2,1212.9 1505.5,1211.7 C1516.9,1210.6 1528.2,1209.4 1539.6,1208.4 C1551.0,1207.4 1562.4,1206.5 1573.8,1205.7 C1585.2,1204.9 1596.6,1204.2 1608.0,1203.6 C1619.4,1203.0 1630.8,1202.5 1642.3,1202.1 C1653.7,1201.8 1665.2,1201.5 1676.7,1201.4 C1688.1,1201.3 1705.4,1201.5 1711.1,1201.5" fill="none" stroke="#535356" stroke-width="14.5"/>
<rect x="690" y="1297.2" width="36" height="18.5" fill="#535356" stroke="#39393b" stroke-width="2"/>
<rect x="668.6" y="1289" width="12.299999999999955" height="34" rx="2.5" fill="#ffffff" stroke="#3b3b3d" stroke-width="2"/>
<path d="M669.1,1298.7 H680.4 M669.1,1314.8 H680.4" stroke="#3b3b3d" stroke-width="1.8" fill="none"/>
<rect x="670.8" y="1300.5" width="8" height="12.5" rx="3" fill="none" stroke="#3b3b3d" stroke-width="0.9"/>
<path d="M680.9,1291.7 L684.5,1292.5 V1321 L680.9,1322 Z" fill="#ffffff" stroke="#3b3b3d" stroke-width="1.8"/>
<path d="M685.6,1293.8 H689.2 L692.5,1297 V1315.7 L689.2,1319.4 H685.6 Z" fill="#ffffff" stroke="#3b3b3d" stroke-width="1.8"/>
<path d="M729,1293.8 H725.5 L723,1297 V1315.7 L725.5,1319.4 H729 Z" fill="#ffffff" stroke="#3b3b3d" stroke-width="1.8"/>
<path d="M729,1292 L734.1,1290.5 V1321.5 L729,1320.5 Z" fill="#ffffff" stroke="#3b3b3d" stroke-width="1.8"/>
<rect x="734.1" y="1289" width="11.5" height="31.40000000000009" rx="2.5" fill="#ffffff" stroke="#3b3b3d" stroke-width="2"/>
<path d="M734.6,1297.5 H745.1 M734.6,1312.5 H745.1" stroke="#3b3b3d" stroke-width="1.8" fill="none"/>
<rect x="668.6" y="1326.4" width="12.299999999999955" height="28.199999999999818" rx="2.5" fill="#ffffff" stroke="#3b3b3d" stroke-width="2"/>
<path d="M669.1,1335.5 H680.4 M669.1,1346 H680.4" stroke="#3b3b3d" stroke-width="1.8" fill="none"/>
<rect x="680.9" y="1329.3" width="7.5" height="22.4" fill="#ffffff" stroke="#3b3b3d" stroke-width="1.8"/>
<rect x="688.4" y="1327.2" width="4.2" height="27.1" fill="#ffffff" stroke="#3b3b3d" stroke-width="1.8"/>
<path d="M845,1285 H857 L860,1289 L863.5,1294 V1306 L860,1310 L857,1314.3 H845 Z" fill="#ffffff" stroke="#3b3b3d" stroke-width="1.8"/>
<line x1="846" y1="1291" x2="857" y2="1290.5" stroke="#3b3b3d" stroke-width="1.5"/><line x1="846" y1="1308.5" x2="857" y2="1308" stroke="#3b3b3d" stroke-width="1.5"/>
<path d="M745.2,1285 L844.3,1280.6 L845.9,1321.3 L747,1325.2 Z" fill="#ffffff" stroke="#3b3b3d" stroke-width="2.4"/>
<line x1="766.2" y1="1284.2" x2="767.8" y2="1324.4" stroke="#3b3b3d" stroke-width="2"/>
<path d="M777.4,1303.6 L790,1295.5 L789.5,1301 L811,1300.3 L811.2,1305.3 L789.7,1306 L790.5,1311.5 Z" fill="#3b3b3d" transform="rotate(-1.5 795 1303)"/>
<text opacity="0.99" x="812.8" y="1305.6" textLength="19" lengthAdjust="spacingAndGlyphs" font-family="&quot;Liberation Sans&quot;, sans-serif" font-weight="bold" font-size="6.8" fill="#3b3b3d" transform="rotate(-1.5 820 1303)">FLOW</text>
<path d="M1972.5,1245 A27.5,10 0 0 1 2027.5,1245 V1258.6 L2004.3,1270.4 H1996.4 L1972.5,1258.6 Z" fill="#ffffff" stroke="#1d1d1f" stroke-width="2.2"/>
<path d="M1972.5,1245 A27.5,10 0 0 0 2027.5,1245 M1996.4,1254.5 V1270.4 M2004.3,1254.5 V1270.4" fill="none" stroke="#1d1d1f" stroke-width="2"/>
<path d="M1985,1229 V1243 A15.5,5.5 0 0 0 2016,1243 V1229 Z" fill="#ffffff" stroke="#1d1d1f" stroke-width="2"/>
<rect x="1993" y="1181" width="14" height="4" fill="#ffffff" stroke="#1d1d1f" stroke-width="2"/>
<path d="M1979.6,1232 V1205 C1979.6,1193 1989,1184.5 2000.1,1184.5 C2011.2,1184.5 2020.7,1193 2020.7,1205 V1232 C2014,1236 2006,1237 2000,1237 C1994,1237 1986,1236 1979.6,1232 Z" fill="#ffffff" stroke="#1d1d1f" stroke-width="2.2"/>
<circle cx="2000" cy="1211.4" r="18.8" fill="#ffffff" stroke="#1d1d1f" stroke-width="2.2"/>
<circle cx="2000" cy="1213.6" r="15.6" fill="#ffffff" stroke="#1d1d1f" stroke-width="2.2"/>
<circle cx="2000" cy="1214" r="13.6" fill="none" stroke="#1d1d1f" stroke-width="1.2"/>
<path d="M1815.9,1148.8 C1817.9,1150.1 1824.0,1153.7 1827.7,1156.5 C1831.3,1159.3 1834.5,1162.3 1837.6,1165.4 C1840.7,1168.5 1843.5,1171.8 1846.2,1175.3 C1848.9,1178.7 1851.3,1182.3 1853.7,1186.1 C1856.1,1189.8 1858.3,1193.7 1860.5,1197.6 C1862.7,1201.6 1864.8,1205.7 1866.9,1209.8 C1869.1,1214.0 1871.1,1218.4 1873.4,1222.5 C1875.6,1226.7 1877.8,1231.0 1880.4,1234.8 C1882.9,1238.7 1885.5,1242.5 1888.6,1245.6 C1891.6,1248.7 1894.9,1251.6 1898.5,1253.7 C1902.1,1255.7 1906.1,1257.2 1910.2,1258.0 C1914.3,1258.7 1918.6,1258.6 1922.9,1258.0 C1927.2,1257.5 1931.7,1256.2 1936.0,1254.6 C1940.3,1253.0 1944.6,1250.9 1948.7,1248.6 C1952.8,1246.3 1956.9,1243.6 1960.6,1240.9 C1964.3,1238.1 1967.8,1235.2 1971.1,1232.2 C1974.5,1229.3 1977.6,1226.1 1980.8,1223.1 C1984.0,1220.0 1987.0,1216.8 1990.2,1213.7 C1993.3,1210.6 1998.2,1206.0 1999.8,1204.4 A8.2,8.2 0 0 1 2008.5,1218.5 L2008.3,1218.8 C2006.9,1220.5 2002.9,1225.4 1999.9,1228.9 C1996.9,1232.4 1993.8,1236.1 1990.6,1239.6 C1987.3,1243.2 1983.9,1246.9 1980.4,1250.3 C1976.8,1253.7 1973.1,1257.1 1969.3,1260.1 C1965.5,1263.1 1961.5,1266.0 1957.4,1268.3 C1953.2,1270.6 1949.0,1272.7 1944.6,1274.1 C1940.2,1275.5 1935.6,1276.4 1931.0,1276.7 C1926.4,1277.0 1921.6,1276.7 1917.1,1275.9 C1912.5,1275.1 1908.0,1273.6 1903.7,1271.8 C1899.4,1270.0 1895.3,1267.7 1891.5,1265.1 C1887.7,1262.6 1884.1,1259.6 1880.7,1256.5 C1877.3,1253.3 1874.2,1249.9 1871.2,1246.3 C1868.1,1242.7 1865.3,1238.8 1862.5,1234.9 C1859.8,1231.0 1857.1,1226.9 1854.6,1222.8 C1852.0,1218.7 1849.5,1214.4 1847.1,1210.2 C1844.6,1206.0 1842.2,1201.8 1839.7,1197.6 C1837.3,1193.5 1834.8,1189.4 1832.3,1185.4 C1829.8,1181.4 1827.2,1177.5 1824.5,1173.9 C1821.9,1170.2 1817.6,1165.2 1816.2,1163.5 Z" fill="#3ec1e6" stroke="#3b3b3d" stroke-width="2.2" stroke-linejoin="round"/>
<path d="M1985.5,1225 A15.6,15.6 0 0 0 2015.6,1213.6 M1983,1223 A18.8,18.8 0 0 0 2018.8,1211.4" fill="none" stroke="#1d1d1f" stroke-width="1.8" opacity="0.3"/>
<path d="M1715,1269 V1327 A92,35 0 0 0 1899,1327 V1269 A92,35 0 0 0 1715,1269 Z" fill="#ffffff" stroke="#1d1d1f" stroke-width="2.3"/>
<path d="M1715,1269 A92,35 0 0 0 1899,1269" fill="none" stroke="#1d1d1f" stroke-width="2.3"/>
<path d="M1787.7,1168 V1236 H1828.6 V1168 Z" fill="#ffffff" stroke="#1d1d1f" stroke-width="2.2"/>
<path d="M1787.7,1200 A20.45,7 0 0 0 1828.6,1200" fill="none" stroke="#1d1d1f" stroke-width="2"/>
<ellipse cx="1808.15" cy="1168" rx="20.45" ry="6.6" fill="#ffffff" stroke="#1d1d1f" stroke-width="2.2"/>
<ellipse cx="1808.15" cy="1167.2" rx="16.5" ry="4.6" fill="#ffffff" stroke="#1d1d1f" stroke-width="1.8"/>
<path d="M1795.2,1150 L1798,1145.7 H1818.3 L1821.1,1150 V1166 L1818.3,1168.5 H1798 L1795.2,1166 Z" fill="#ffffff" stroke="#1d1d1f" stroke-width="2"/>
<path d="M1802,1146 V1168 M1814.2,1146 V1168" fill="none" stroke="#1d1d1f" stroke-width="1.6"/>
<path d="M1798.6,1139 L1801,1136.5 H1815.3 L1817.7,1139 V1145.7 H1798.6 Z" fill="#ffffff" stroke="#1d1d1f" stroke-width="1.8"/>
<path d="M1803.5,1137 V1145.5 M1812.8,1137 V1145.5" fill="none" stroke="#1d1d1f" stroke-width="1.3"/>
<rect x="1764.2" y="1216" width="12.2" height="16" fill="#ffffff" stroke="#1d1d1f" stroke-width="2.2"/>
<path d="M1755,1186.5 H1762 C1773,1186.5 1780,1196 1780,1206 V1214 H1762 V1216.5 H1755 Z" fill="#ffffff" stroke="#1d1d1f" stroke-width="2.2"/>
<rect x="1759" y="1213.3" width="22.6" height="5.1" fill="#ffffff" stroke="#1d1d1f" stroke-width="2.2"/>
<path d="M1736,1180 H1745 C1751,1180 1755.3,1186 1755.3,1193 V1209 C1755.3,1216 1751,1222.3 1745,1222.3 H1736 Z" fill="#ffffff" stroke="#1d1d1f" stroke-width="2.2"/>
<rect x="1716.1" y="1177.7" width="19.9" height="47.1" fill="#ffffff" stroke="#1d1d1f" stroke-width="2.2"/>
<line x1="1724.4" y1="1178" x2="1724.4" y2="1224.5" stroke="#1d1d1f" stroke-width="2.2"/>
<rect x="1709.7" y="1184.4" width="6.4" height="34" fill="#ffffff" stroke="#1d1d1f" stroke-width="2.2"/>
<path d="M1746.7,1246 C1746.7,1235 1756,1227 1770.2,1226.7 C1784.4,1227 1793.7,1235 1793.7,1246 V1261.5 C1793.7,1268 1784,1274 1770.2,1274 C1756.4,1274 1746.7,1268 1746.7,1261.5 Z" fill="#ffffff" stroke="#1d1d1f" stroke-width="2.2"/>
<path d="M1757,1233.5 A13,4 0 0 0 1783,1233.5 M1752,1239.5 A18.2,5 0 0 0 1788.4,1239.5 M1748,1248.5 A22.2,6 0 0 0 1792.4,1248.5 M1747.5,1254 A22.7,6.5 0 0 0 1792.9,1254" fill="none" stroke="#1d1d1f" stroke-width="1.9"/>
<path d="M1766.3,1256 V1273 M1770.7,1256 V1273.5" fill="none" stroke="#1d1d1f" stroke-width="1.7"/>
<path d="M1749,1266 C1755,1272 1763,1274.5 1770.2,1274.5 C1777.4,1274.5 1785,1272 1791.5,1266" fill="none" stroke="#1d1d1f" stroke-width="1.6"/>
<path d="M2054.8,465.5 C2054.8,469.6 2054.8,482.0 2054.7,490.4 C2054.6,498.7 2054.5,507.1 2054.3,515.5 C2054.1,523.9 2053.8,532.4 2053.3,540.8 C2052.9,549.3 2052.4,557.7 2051.6,566.1 C2050.9,574.6 2050.0,583.0 2048.9,591.3 C2047.8,599.7 2046.6,608.0 2045.1,616.2 C2043.6,624.5 2041.9,632.7 2039.9,640.8 C2037.9,648.8 2035.7,656.9 2033.3,664.8 C2030.8,672.7 2028.1,680.6 2025.2,688.3 C2022.3,696.1 2019.1,703.7 2015.8,711.4 C2012.6,719.0 2009.1,726.5 2005.5,734.1 C2001.9,741.6 1998.2,749.0 1994.4,756.5 C1990.6,763.9 1986.6,771.3 1982.7,778.7 C1978.8,786.1 1974.7,793.5 1970.7,800.9 C1966.7,808.3 1962.7,815.7 1958.7,823.1 C1954.7,830.5 1950.7,837.9 1946.8,845.4 C1942.9,852.8 1939.1,860.3 1935.3,867.9 C1931.6,875.4 1927.9,883.0 1924.3,890.6 C1920.8,898.2 1917.3,905.8 1913.9,913.5 C1910.5,921.2 1907.2,928.9 1904.0,936.6 C1900.8,944.4 1897.7,952.1 1894.8,960.0 C1891.8,967.8 1888.9,975.6 1886.2,983.5 C1883.4,991.4 1880.8,999.3 1878.3,1007.3 C1875.8,1015.2 1873.5,1023.2 1871.2,1031.3 C1869.0,1039.3 1866.9,1047.3 1864.9,1055.4 C1863.0,1063.5 1861.1,1071.7 1859.5,1079.8 C1857.8,1088.0 1856.3,1096.2 1854.9,1104.4 C1853.6,1112.7 1852.4,1120.9 1851.3,1129.2 C1850.3,1137.5 1849.4,1145.9 1848.7,1154.2 C1848.0,1162.6 1847.5,1171.0 1847.1,1179.4 C1846.8,1187.9 1846.6,1196.3 1846.6,1204.8 C1846.7,1213.3 1847.1,1226.2 1847.2,1230.4" fill="none" stroke="#333335" stroke-width="17.5" stroke-linejoin="round"/>
<path d="M2054.8,465.5 C2054.8,469.6 2054.8,482.0 2054.7,490.4 C2054.6,498.7 2054.5,507.1 2054.3,515.5 C2054.1,523.9 2053.8,532.4 2053.3,540.8 C2052.9,549.3 2052.4,557.7 2051.6,566.1 C2050.9,574.6 2050.0,583.0 2048.9,591.3 C2047.8,599.7 2046.6,608.0 2045.1,616.2 C2043.6,624.5 2041.9,632.7 2039.9,640.8 C2037.9,648.8 2035.7,656.9 2033.3,664.8 C2030.8,672.7 2028.1,680.6 2025.2,688.3 C2022.3,696.1 2019.1,703.7 2015.8,711.4 C2012.6,719.0 2009.1,726.5 2005.5,734.1 C2001.9,741.6 1998.2,749.0 1994.4,756.5 C1990.6,763.9 1986.6,771.3 1982.7,778.7 C1978.8,786.1 1974.7,793.5 1970.7,800.9 C1966.7,808.3 1962.7,815.7 1958.7,823.1 C1954.7,830.5 1950.7,837.9 1946.8,845.4 C1942.9,852.8 1939.1,860.3 1935.3,867.9 C1931.6,875.4 1927.9,883.0 1924.3,890.6 C1920.8,898.2 1917.3,905.8 1913.9,913.5 C1910.5,921.2 1907.2,928.9 1904.0,936.6 C1900.8,944.4 1897.7,952.1 1894.8,960.0 C1891.8,967.8 1888.9,975.6 1886.2,983.5 C1883.4,991.4 1880.8,999.3 1878.3,1007.3 C1875.8,1015.2 1873.5,1023.2 1871.2,1031.3 C1869.0,1039.3 1866.9,1047.3 1864.9,1055.4 C1863.0,1063.5 1861.1,1071.7 1859.5,1079.8 C1857.8,1088.0 1856.3,1096.2 1854.9,1104.4 C1853.6,1112.7 1852.4,1120.9 1851.3,1129.2 C1850.3,1137.5 1849.4,1145.9 1848.7,1154.2 C1848.0,1162.6 1847.5,1171.0 1847.1,1179.4 C1846.8,1187.9 1846.6,1196.3 1846.6,1204.8 C1846.7,1213.3 1847.1,1226.2 1847.2,1230.4" fill="none" stroke="#d4d5e2" stroke-width="13.5" stroke-linejoin="round"/>
<path d="M1827,1262 V1268 A19,6 0 0 0 1865,1268 V1262 Z" fill="#ffffff" stroke="#1d1d1f" stroke-width="2"/>
<path d="M1827,1265 A19,6 0 0 0 1865,1265" fill="none" stroke="#1d1d1f" stroke-width="1.6"/>
<path d="M1823.3,1230.4 L1831,1228 L1867.8,1231.1 L1866,1263 L1845.9,1268.1 L1825.8,1263 Z" fill="#ffffff" stroke="#1d1d1f" stroke-width="2.2"/>
<path d="M1825,1248 C1832,1253 1840,1255 1846,1255 C1853,1255 1860,1253 1867,1248 M1845.9,1255 V1268" fill="none" stroke="#1d1d1f" stroke-width="1.9"/>
<ellipse cx="1846" cy="1227.6" rx="14" ry="6.1" fill="#b3b3b5" stroke="#1d1d1f" stroke-width="2.2"/>
<g fill="none" stroke="#0e0e10" stroke-width="2.9">
<path d="M307.35,1827 V1856.8 M327.55,1827 V1856.8 M307.35,1842.3 H327.55"/>
<circle cx="346" cy="1847" r="9.5"/>
<path d="M364.6,1830.1 V1849.5 C364.6,1854.5 366.8,1856.3 371.6,1855.9 M360.6,1837.3 H371.2"/>
<path d="M704.2,1829.8 A13.85,13.85 0 1 0 704.6,1849.6"/>
<circle cx="719.9" cy="1844.05" r="9.35"/>
<path d="M737.65,1823.9 V1849 C737.65,1852.2 739.2,1853.4 742,1853.2"/>
<ellipse cx="755.6" cy="1844.05" rx="8.2" ry="9.35"/>
<path d="M763.55,1823.9 V1853.7"/>
</g>
</svg>
</body></html>
